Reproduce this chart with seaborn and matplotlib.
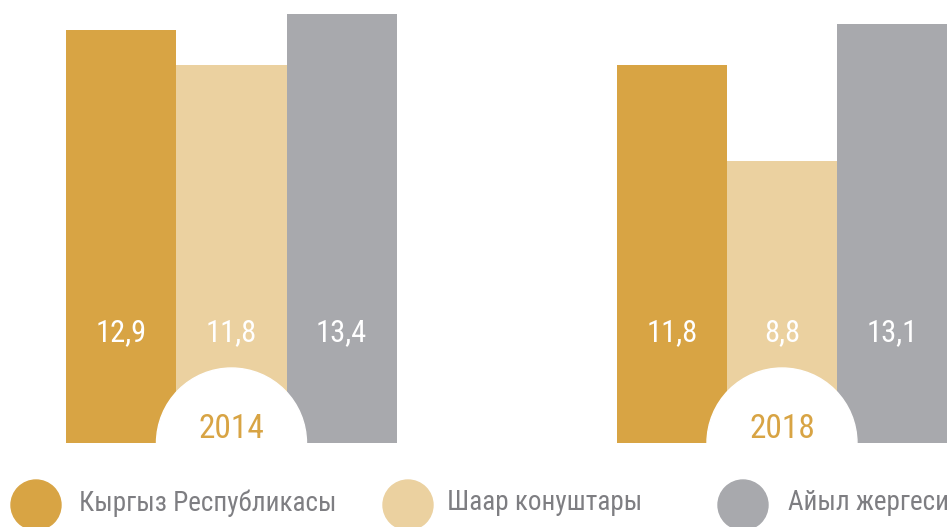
import pandas as pd
import seaborn as sns
import matplotlib.pyplot as plt
from matplotlib.patches import Ellipse, Circle
from matplotlib import font_manager

# data
years = ['2014', '2018']
groups = ['Кыргыз Республикасы', 'Шаар конуштары', 'Айыл жергеси']
kr = [12.9, 11.8]
city = [11.8, 8.8]
rural = [13.4, 13.1]
colors = ['#D8A444', '#EBD1A0', '#A8A9AD']

df = pd.DataFrame({
    'year': years * 3,
    'group': [groups[0]] * 2 + [groups[1]] * 2 + [groups[2]] * 2,
    'value': kr + city + rural,
})

# narrow font if there is one
names = {f.name for f in font_manager.fontManager.ttflist}
font = 'Roboto'
for cand in ['Roboto Condensed', 'Liberation Sans Narrow', 'Open Sans Condensed']:
    if cand in names:
        font = cand
        break
narrow = font != 'Roboto'

sns.set_style('white')
plt.rcParams['font.family'] = [font, 'DejaVu Sans']

fig = plt.figure(figsize=(9.49, 5.27), dpi=100)
ax = fig.add_axes([0, 84 / 527, 1, 443 / 527])

sns.barplot(data=df, x='year', y='value', hue='group', palette=colors,
            width=0.6, saturation=1, linewidth=0, ax=ax, legend=False)

ax.set_xlim(-0.4205, 1.3034)
ax.set_ylim(0, 443 / 32)
ax.axis('off')

# value labels inside bars
for container in ax.containers:
    for bar in container:
        v = bar.get_height()
        ax.text(bar.get_x() + bar.get_width() / 2, 3.44, f'{v:.1f}'.replace('.', ','),
                ha='center', va='center', color='white',
                fontsize=22 if narrow else 19)

# year badges
for i, y in enumerate(years):
    ax.add_patch(Ellipse((i, 0), width=150 / 550.5, height=150 / 32,
                         color='white', zorder=5))
    ax.text(i, 0.43, y, ha='center', va='center', color=colors[0],
            fontsize=24 if narrow else 21, zorder=6)

# legend
leg_circle_x = [36, 408, 743]
leg_text_x = [79, 447, 788]
for cx, tx, c, g in zip(leg_circle_x, leg_text_x, colors, groups):
    fig.patches.append(Circle((cx / 100, 22 / 100), 0.25, color=c,
                              transform=fig.dpi_scale_trans, figure=fig))
    fig.text(tx / 949, 24 / 527, g, ha='left', va='center', color='#7E7E82',
             fontsize=19.5 if narrow else 17)

fig.savefig('out.png', dpi=100)
